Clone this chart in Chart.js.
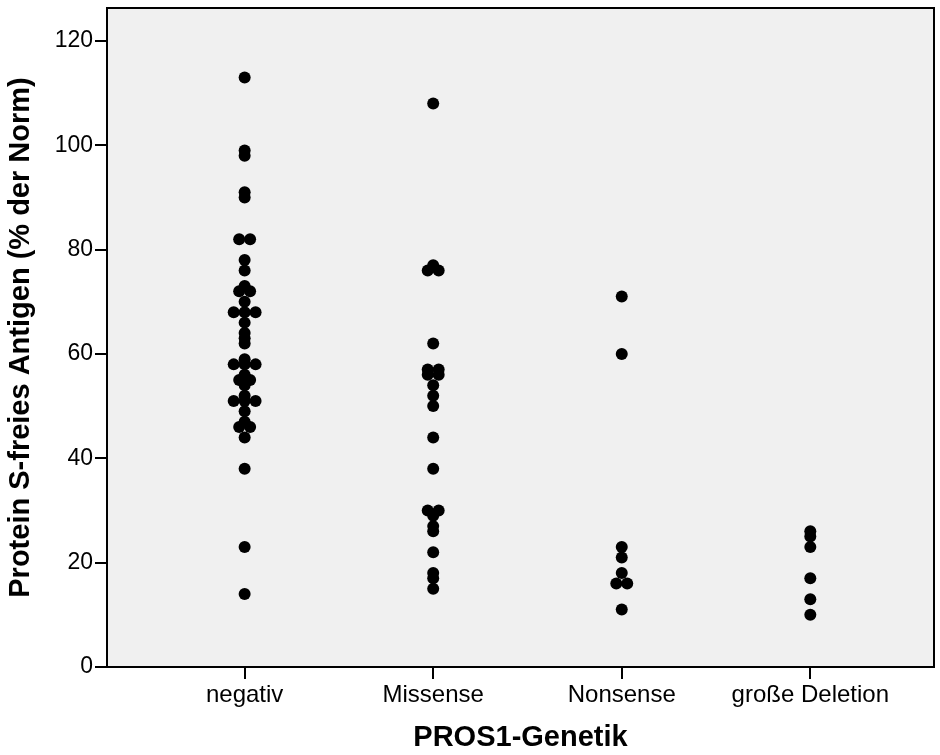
<!DOCTYPE html>
<html>
<head>
<meta charset="utf-8">
<script src="https://cdn.jsdelivr.net/npm/chart.js@4.4.1/dist/chart.umd.min.js"></script>
<style>
  html, body { margin: 0; padding: 0; background: #ffffff; }
  #wrap { width: 940px; height: 755px; }
</style>
</head>
<body>
<div id="wrap"><canvas id="myChart" width="940" height="755"></canvas></div>
<script>
// categories on the x axis
const categories = ['negativ', 'Missense', 'Nonsense', 'große Deletion'];

// Protein S-freies Antigen (% der Norm), one list per group
const negativValues = [113, 99, 98, 91, 90, 82, 82, 78, 76, 73, 72, 72, 70, 68, 68, 68, 66, 64, 63, 62,
    59, 58, 58, 58, 56, 55, 55, 54, 52, 51, 51, 51, 49, 47, 46, 46, 44, 38, 23, 14];
const missenseValues = [108, 77, 76, 76, 62, 57, 57, 56, 56, 54, 52, 50, 44, 38, 30, 30, 29, 27, 26, 22, 18, 17, 15];
const nonsenseValues = [71, 60, 23, 21, 18, 16, 16, 11];
const deletionValues = [26, 25, 23, 17, 13, 10];

const yTicks = [0, 20, 40, 60, 80, 100, 120];

const groups = [negativValues, missenseValues, nonsenseValues, deletionValues];

// equal values sit side by side, like a stacked dot plot
const dotStep = 0.058;
function buildPoints() {
    let pts = [];
    for (let g = 0; g < groups.length; g++) {
        let counts = {};
        groups[g].forEach(v => { counts[v] = (counts[v] || 0) + 1; });
        let seen = {};
        groups[g].forEach(v => {
            let n = counts[v];
            let i = seen[v] || 0;
            seen[v] = i + 1;
            pts.push({ x: g + (i - (n - 1) / 2) * dotStep, y: v });
        });
    }
    return pts;
}

const frame = {
    id: 'frame',
    beforeDraw(chart) {
        const a = chart.chartArea;
        const ctx = chart.ctx;
        ctx.save();
        ctx.fillStyle = '#f0f0f0';
        ctx.fillRect(a.left, a.top, a.right - a.left, a.bottom - a.top);
        ctx.restore();
    },
    afterDraw(chart) {
        const a = chart.chartArea;
        const ctx = chart.ctx;
        ctx.save();
        ctx.strokeStyle = '#000';
        ctx.lineWidth = 2;
        ctx.strokeRect(a.left, a.top, a.right - a.left, a.bottom - a.top);
        ctx.restore();
    }
};

const fontFamily = '"Liberation Sans", Arial, sans-serif';

const ctx = document.getElementById('myChart').getContext('2d');
const myChart = new Chart(ctx, {
    type: 'scatter',
    data: {
        datasets: [{
            data: buildPoints(),
            backgroundColor: '#000',
            borderWidth: 0,
            pointRadius: 6,
            pointHoverRadius: 6
        }]
    },
    options: {
        responsive: false,
        animation: false,
        layout: { padding: { top: 8, right: 5, left: 0, bottom: 0 } },
        plugins: { legend: { display: false }, tooltip: { enabled: false } },
        scales: {
            x: {
                type: 'linear',
                min: -0.73,
                max: 3.656,
                afterBuildTicks: s => { s.ticks = categories.map((c, i) => ({ value: i })); },
                afterFit: s => { s.height = 88; s.paddingLeft = 0; s.paddingRight = 0; },
                ticks: {
                    callback: v => categories[v],
                    color: '#000',
                    font: { family: fontFamily, size: 24 },
                    padding: 2,
                    autoSkip: false,
                    maxRotation: 0
                },
                grid: { drawOnChartArea: false, color: '#000', lineWidth: 2, tickLength: 12 },
                border: { color: '#000', width: 2 },
                title: {
                    display: true,
                    text: 'PROS1-Genetik',
                    color: '#000',
                    font: { family: fontFamily, size: 29, weight: 'bold' },
                    padding: { top: 4, bottom: 0 }
                }
            },
            y: {
                min: 0,
                max: 126.3,
                afterBuildTicks: s => { s.ticks = yTicks.map(v => ({ value: v })); },
                afterFit: s => { s.width = 107; s.paddingTop = 0; s.paddingBottom = 0; },
                ticks: {
                    color: '#000',
                    font: { family: fontFamily, size: 23 },
                    padding: 2
                },
                grid: { drawOnChartArea: false, color: '#000', lineWidth: 2, tickLength: 12 },
                border: { color: '#000', width: 2 },
                title: {
                    display: true,
                    text: 'Protein S-freies Antigen (% der Norm)',
                    color: '#000',
                    font: { family: fontFamily, size: 29, weight: 'bold' },
                    padding: { top: 4, bottom: 4 }
                }
            }
        }
    },
    plugins: [frame]
});
</script>
</body>
</html>
